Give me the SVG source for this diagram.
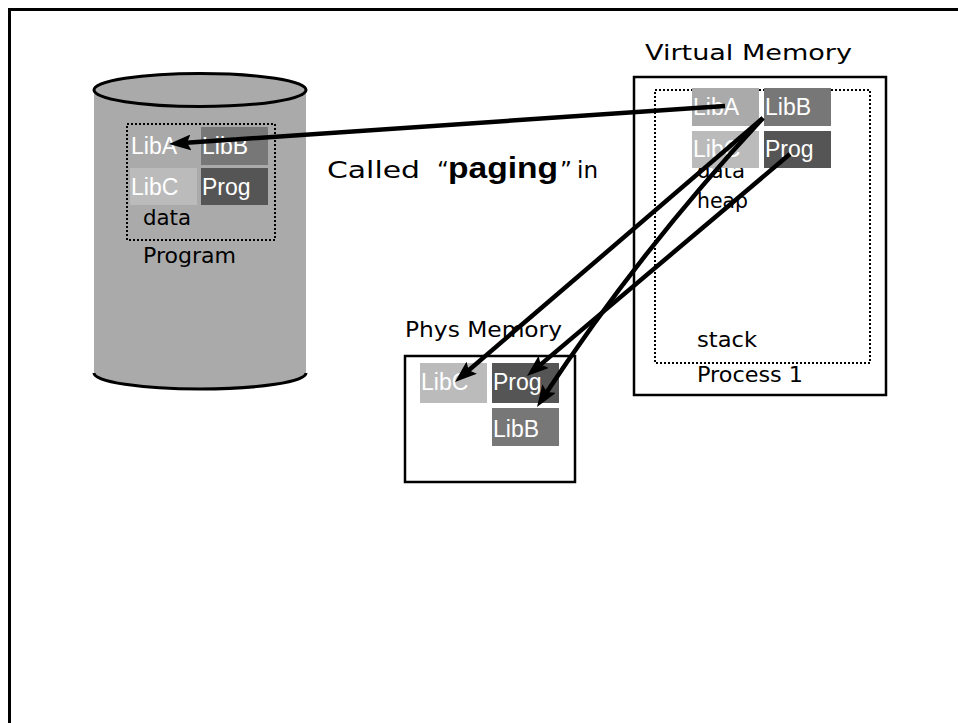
<svg xmlns="http://www.w3.org/2000/svg" width="958" height="723" viewBox="0 0 958 723">
<style>
.hand{font-family:"Comic Sans MS","DejaVu Sans","Open Sans",sans-serif;font-size:21px;fill:#000}
.big{font-size:23px}
.lbl{font-family:"Liberation Sans",Arial,sans-serif;font-size:23px;fill:#fff}
.dot{fill:none;stroke:#000;stroke-width:2;stroke-dasharray:2 2}
.box{fill:none;stroke:#000;stroke-width:2.5}
.cA{fill:#aaaaaa}.cB{fill:#777777}.cC{fill:#bbbbbb}.cP{fill:#555555}
.arr{fill:none;stroke:#000;stroke-width:4.5;marker-end:url(#ah)}
</style>
<defs>
<marker id="ah" markerUnits="userSpaceOnUse" markerWidth="22" markerHeight="16" viewBox="0 0 22 16" refX="12" refY="8" orient="auto">
<path d="M0,0 L22,8 L0,16 L4,8 Z" fill="#000"/>
</marker>
</defs>
<rect width="958" height="723" fill="#fff"/>
<path d="M9.5,730 V9.5 H970" fill="none" stroke="#000" stroke-width="3"/>

<g id="program">
<path d="M94,90 V373 A106,16 0 0 0 306,373 V90 Z" fill="#aaaaaa"/>
<path d="M94,373 A106,16 0 0 0 306,373" fill="none" stroke="#000" stroke-width="3"/>
<ellipse cx="200" cy="90" rx="106" ry="16.5" fill="#aaaaaa" stroke="#000" stroke-width="3"/>
<rect class="cA" x="130" y="127" width="67" height="38"/>
<rect class="cB" x="201" y="127" width="67" height="38"/>
<rect class="cC" x="130" y="168" width="67" height="37"/>
<rect class="cP" x="201" y="168" width="67" height="37"/>
<text class="lbl" x="131" y="154">LibA</text>
<text class="lbl" x="202" y="154">LibB</text>
<text class="lbl" x="131" y="195">LibC</text>
<text class="lbl" x="202" y="195">Prog</text>
<text class="hand" x="143" y="225" textLength="48" lengthAdjust="spacingAndGlyphs">data</text>
<rect class="dot" x="127" y="124" width="148" height="116"/>
<text class="hand" x="143" y="263" textLength="93" lengthAdjust="spacingAndGlyphs">Program</text>
</g>

<g id="caption">
<text class="hand big" x="327" y="178" textLength="93" lengthAdjust="spacingAndGlyphs">Called</text>
<text class="hand big" x="437" y="178">“</text>
<text x="448" y="178" font-family="Liberation Sans, Arial, sans-serif" font-weight="bold" font-size="30" textLength="110" lengthAdjust="spacingAndGlyphs">paging</text>
<text class="hand big" x="560" y="178">”</text>
<text class="hand big" x="577" y="178" textLength="21" lengthAdjust="spacingAndGlyphs">in</text>
</g>

<g id="virtual-memory">
<text class="hand" x="645" y="60" textLength="207" lengthAdjust="spacingAndGlyphs">Virtual Memory</text>
<rect class="box" x="634" y="77" width="252" height="318"/>
<text class="hand" x="697" y="178" textLength="48" lengthAdjust="spacingAndGlyphs">data</text>
<text class="hand" x="697" y="208" textLength="51" lengthAdjust="spacingAndGlyphs">heap</text>
<text class="hand" x="697" y="347" textLength="60" lengthAdjust="spacingAndGlyphs">stack</text>
<text class="hand" x="697" y="382" textLength="106" lengthAdjust="spacingAndGlyphs">Process 1</text>
<rect class="dot" x="655" y="90" width="215" height="273"/>
<rect class="cA" x="692" y="88" width="67" height="38"/>
<rect class="cB" x="764" y="88" width="67" height="38"/>
<rect class="cC" x="692" y="131" width="67" height="37"/>
<rect class="cP" x="764" y="131" width="67" height="37"/>
<text class="lbl" x="693" y="115">LibA</text>
<text class="lbl" x="765" y="115">LibB</text>
<text class="lbl" x="693" y="157">LibC</text>
<text class="lbl" x="765" y="157">Prog</text>
</g>

<g id="phys-memory">
<text class="hand" x="405" y="337" textLength="157" lengthAdjust="spacingAndGlyphs">Phys Memory</text>
<rect class="box" x="405" y="356" width="170" height="126"/>
<rect class="cC" x="420" y="363" width="67" height="40"/>
<rect class="cP" x="492" y="363" width="67" height="40"/>
<rect class="cB" x="492" y="408" width="67" height="38"/>
<text class="lbl" x="421" y="390">LibC</text>
<text class="lbl" x="493" y="390">Prog</text>
<text class="lbl" x="493" y="437">LibB</text>
</g>

<g id="connectors">
<path class="arr" d="M725,106 L179,143.3"/>
<path class="arr" d="M763,118 L462.6,375.5"/>
<path class="arr" d="M790,154 L534.6,369.6"/>
<path class="arr" d="M763,118 Q640,250 542.5,398.6"/>
</g>
</svg>
